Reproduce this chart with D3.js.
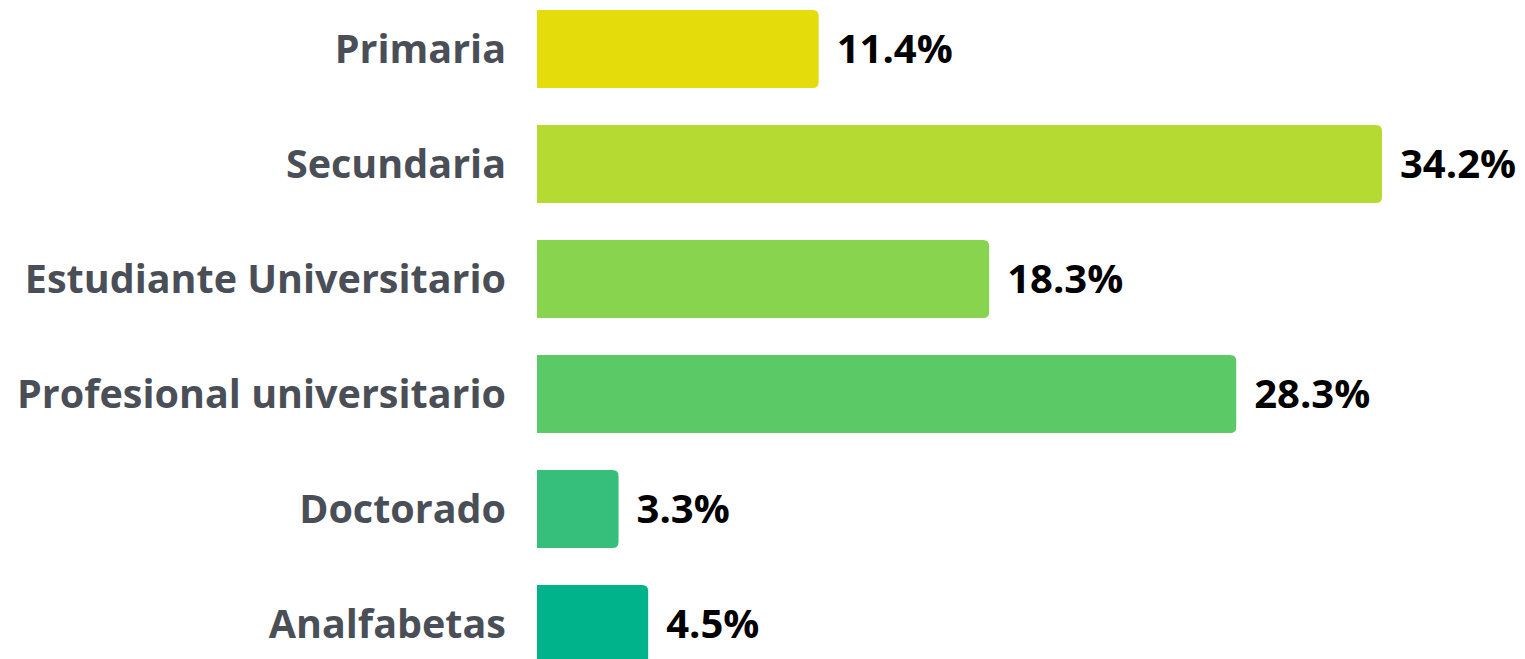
<!DOCTYPE html>
<html><head><meta charset="utf-8">
<script src="https://cdn.jsdelivr.net/npm/d3@7"></script>
<style>html,body{margin:0;padding:0;background:#fff;overflow:hidden}</style>
</head><body>
<svg id="chart" width="1525" height="659"></svg>
<script>
const categories = ["Primaria","Secundaria","Estudiante Universitario","Profesional universitario","Doctorado","Analfabetas"];
const values = [11.4, 34.2, 18.3, 28.3, 3.3, 4.5];
const colors = ["#E4DC0B","#B5DA32","#88D44F","#5CC967","#36BE7B","#00B38A"];
const labels = values.map(v => v.toFixed(1) + "%");

const svg = d3.select("#chart");
const x = d3.scaleLinear().domain([0, d3.max(values)]).range([537, 1382]);
const y = d3.scaleBand().domain(categories).range([10, 663]).paddingInner(37/115).paddingOuter(0);
const r = 6;

function barPath(x0, x1, y0, h) {
  const rr = Math.min(r, (x1 - x0) / 2, h / 2);
  return `M${x0},${y0}H${x1-rr}Q${x1},${y0} ${x1},${y0+rr}V${y0+h-rr}Q${x1},${y0+h} ${x1-rr},${y0+h}H${x0}Z`;
}

const data = categories.map((c, i) => ({c, v: values[i], col: colors[i], lab: labels[i]}));

svg.selectAll("path.bar").data(data).join("path")
  .attr("class","bar")
  .attr("d", d => barPath(x(0), x(d.v), y(d.c), y.bandwidth()))
  .attr("fill", d => d.col);

svg.selectAll("text.cat").data(data).join("text")
  .attr("class","cat")
  .attr("x", x(0) - 31)
  .attr("y", d => y(d.c) + y.bandwidth()/2)
  .attr("dy","0.35em")
  .attr("text-anchor","end")
  .attr("font-family","'Open Sans', sans-serif")
  .attr("font-weight","700")
  .attr("font-size","39.5px")
  .attr("fill","#4A4F57")
  .text(d => d.c);

svg.selectAll("text.val").data(data).join("text")
  .attr("class","val")
  .attr("x", d => x(d.v) + 18)
  .attr("y", d => y(d.c) + y.bandwidth()/2)
  .attr("dy","0.35em")
  .attr("font-family","'Open Sans', sans-serif")
  .attr("font-weight","700")
  .attr("font-size","40px")
  .attr("fill","#000")
  .text(d => d.lab);
</script>
</body></html>
